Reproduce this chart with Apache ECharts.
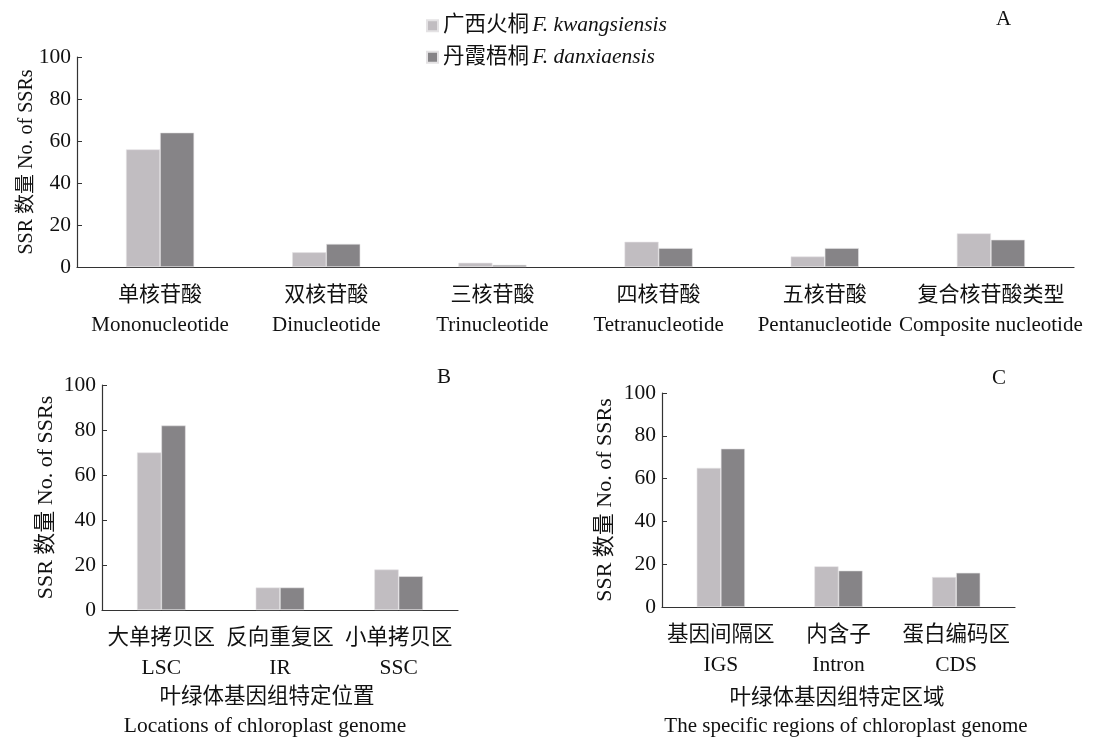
<!DOCTYPE html>
<html><head><meta charset="utf-8">
<script src="https://cdn.jsdelivr.net/npm/echarts@6/dist/echarts.min.js"></script>
<style>html,body{margin:0;padding:0;background:#fff}#c{width:1096px;height:740px}</style>
</head><body><div id="c"></div>
<script>
// ---- data ----
const seriesNames = ['广西火桐 F. kwangsiensis', '丹霞梧桐 F. danxiaensis'];
const catA_zh = ['单核苷酸', '双核苷酸', '三核苷酸', '四核苷酸', '五核苷酸', '复合核苷酸类型'];
const catA_en = ['Mononucleotide', 'Dinucleotide', 'Trinucleotide', 'Tetranucleotide', 'Pentanucleotide', 'Composite nucleotide'];
const A_kwang = [56, 7, 2, 12, 5, 16];
const A_danx = [64, 11, 1, 9, 9, 13];
const catB_zh = ['大单拷贝区', '反向重复区', '小单拷贝区'];
const catB_en = ['LSC', 'IR', 'SSC'];
const B_kwang = [70, 10, 18];
const B_danx = [82, 10, 15];
const catC_zh = ['基因间隔区', '内含子', '蛋白编码区'];
const catC_en = ['IGS', 'Intron', 'CDS'];
const C_kwang = [65, 19, 14];
const C_danx = [74, 17, 16];
const yTicks = [0, 20, 40, 60, 80, 100];
const yName = 'SSR 数量 No. of SSRs';
const xNameB = ['叶绿体基因组特定位置', 'Locations of chloroplast genome'];
const xNameC = ['叶绿体基因组特定区域', 'The specific regions of chloroplast genome'];

// ---- style ----
const FONT = "'Liberation Serif', 'Noto Sans CJK SC', serif";
const LIGHT = '#c1bdc1', DARK = '#868487';
const grids = [
  {left: 77, top: 57, width: 997, height: 210},
  {left: 102, top: 385, width: 356, height: 225},
  {left: 662, top: 393, width: 353, height: 214}
];
const nameGaps = [40, 45, 46];
const nameSizes = [20, 22, 22];
const labelSizes = [21, 21.5, 21.5];
const cats = [[catA_zh, catA_en], [catB_zh, catB_en], [catC_zh, catC_en]];
const vals = [[A_kwang, A_danx], [B_kwang, B_danx], [C_kwang, C_danx]];

const xAxis = cats.map((c, i) => ({
  type: 'category', gridIndex: i,
  data: c[0].map((z, k) => z + '\n' + c[1][k]),
  axisLine: {lineStyle: {color: '#333', width: 1.2}},
  axisTick: {show: false},
  axisLabel: {interval: 0, margin: 13, color: '#111', fontFamily: FONT, fontSize: labelSizes[i], lineHeight: 30}
}));
const yAxis = grids.map((g, i) => ({
  type: 'value', gridIndex: i, min: 0, max: 100, interval: 20,
  name: yName, nameLocation: 'middle', nameGap: nameGaps[i], nameMoveOverlap: false,
  nameTextStyle: {color: '#111', fontFamily: FONT, fontSize: nameSizes[i]},
  axisLine: {show: true, lineStyle: {color: '#333', width: 1.2}},
  axisTick: {show: true, inside: true, length: 5, lineStyle: {color: '#333'}},
  splitLine: {show: false},
  axisLabel: {color: '#111', fontFamily: FONT, fontSize: 21.5, margin: 6,
    formatter: v => yTicks.includes(v) ? String(v) : ''}
}));
const series = [];
vals.forEach((pair, i) => {
  pair.forEach((d, j) => {
    series.push({
      name: seriesNames[j], type: 'bar', xAxisIndex: i, yAxisIndex: i,
      data: d, barWidth: '20.5%', barGap: '0%',
      itemStyle: {color: j === 0 ? LIGHT : DARK, borderColor: '#e4e2e4', borderWidth: 0.6},
      emphasis: {disabled: true}, animation: false
    });
  });
});

const chart = echarts.init(document.getElementById('c'));
chart.setOption({
  animation: false,
  grid: grids,
  xAxis, yAxis, series,
  legend: {
    orient: 'vertical', left: 421, top: 10, itemGap: 10,
    itemWidth: 11, itemHeight: 11, icon: 'rect',
    data: seriesNames,
    formatter: n => {
      const p = n.split(' ');
      return '{zh|' + p[0] + '} {it|' + p.slice(1).join(' ') + '}';
    },
    textStyle: {
      rich: {
        zh: {fontFamily: FONT, fontSize: 21.5, color: '#111'},
        it: {fontFamily: FONT, fontSize: 21.5, fontStyle: 'italic', color: '#111'}
      }
    }
  },
  graphic: [
    {type: 'text', left: 996, top: 9, style: {text: 'A', font: "21px 'Liberation Serif'", fill: '#111'}},
    {type: 'text', left: 437, top: 367, style: {text: 'B', font: "21px 'Liberation Serif'", fill: '#111'}},
    {type: 'text', left: 992, top: 368, style: {text: 'C', font: "21px 'Liberation Serif'", fill: '#111'}},
    {type: 'text', x: 267, y: 697, style: {text: xNameB[0], font: "21.5px 'Liberation Serif', 'Noto Sans CJK SC'", fill: '#111', align: 'center', verticalAlign: 'middle'}},
    {type: 'text', x: 265, y: 726, style: {text: xNameB[1], font: "21.5px 'Liberation Serif'", fill: '#111', align: 'center', verticalAlign: 'middle'}},
    {type: 'text', x: 837, y: 698, style: {text: xNameC[0], font: "21.5px 'Liberation Serif', 'Noto Sans CJK SC'", fill: '#111', align: 'center', verticalAlign: 'middle'}},
    {type: 'text', x: 846, y: 726, style: {text: xNameC[1], font: "21px 'Liberation Serif'", fill: '#111', align: 'center', verticalAlign: 'middle'}}
  ]
});
</script></body></html>
